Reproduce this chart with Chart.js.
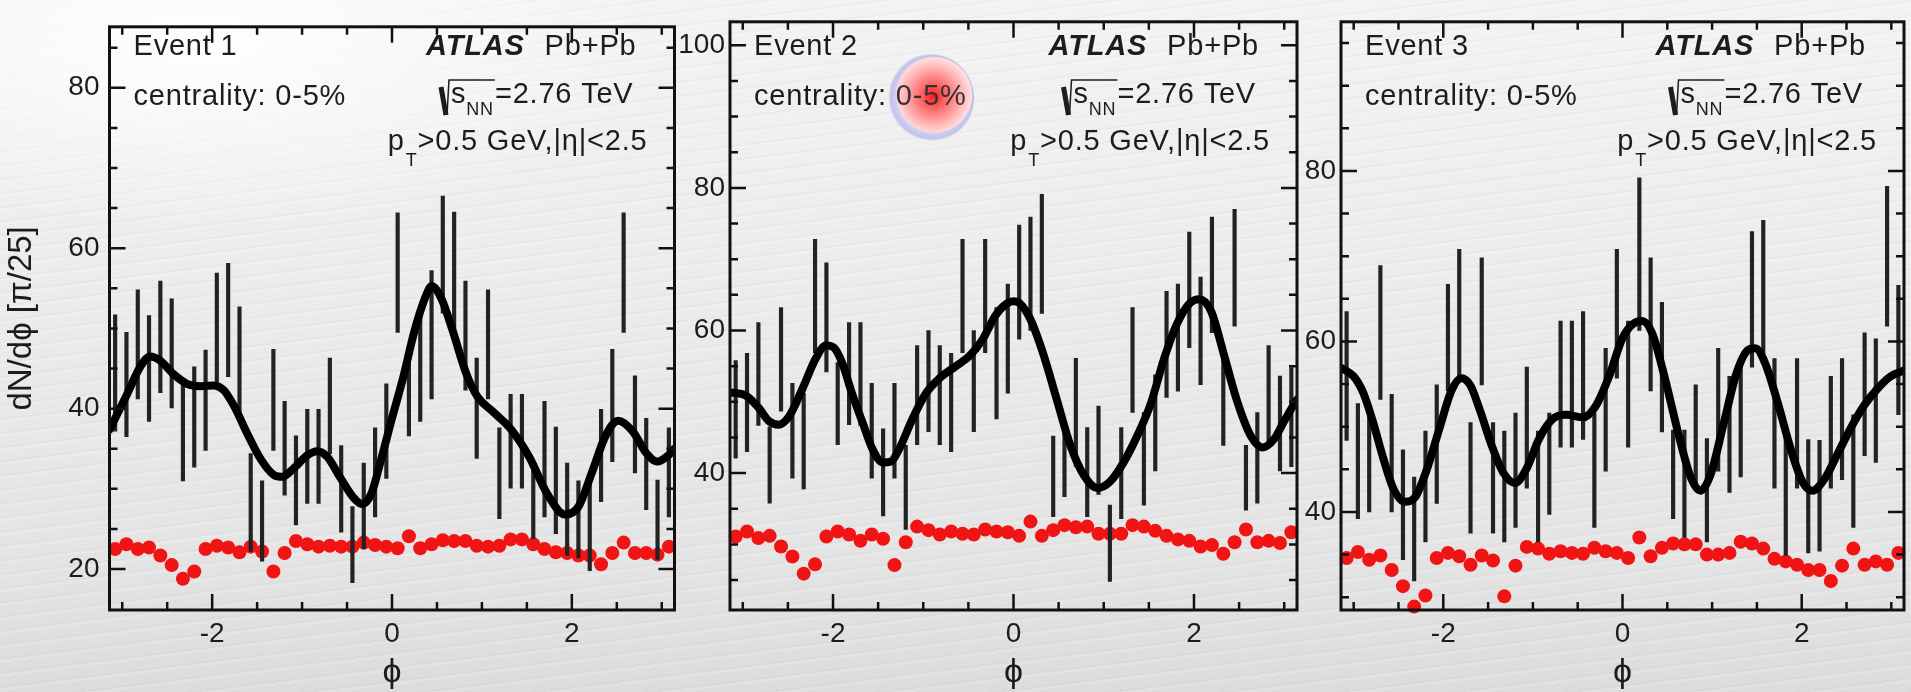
<!DOCTYPE html>
<html>
<head>
<meta charset="utf-8">
<title>ATLAS Pb+Pb single events dN/dphi</title>
<script src="https://cdn.jsdelivr.net/npm/chart.js@4.4.1/dist/chart.umd.min.js"></script>
<style>
  html, body { margin: 0; padding: 0; }
  body {
    width: 1911px; height: 692px; overflow: hidden; position: relative;
    background:
      radial-gradient(ellipse 460px 190px at 200px 40px, rgba(255,255,255,0.95), rgba(255,255,255,0) 100%),
      repeating-linear-gradient(173deg, rgba(0,0,0,0) 0 9px, rgba(0,0,0,0.018) 9px 11px, rgba(255,255,255,0.15) 11px 14px),
      linear-gradient(180deg, #f3f3f3 0%, #ececec 40%, #e4e4e4 80%, #dcdcdc 100%);
  }
  canvas { position: absolute; top: 0; }
</style>
</head>
<body>
<canvas id="event1" width="690" height="692" style="left:0px"></canvas>
<canvas id="event2" width="630" height="692" style="left:680px"></canvas>
<canvas id="event3" width="611" height="692" style="left:1300px"></canvas>
<script>
// bin centres, pi/25 wide bins over [-pi, pi]
const phiBins = [-3.079, -2.953, -2.827, -2.702, -2.576, -2.450, -2.325, -2.199, -2.073, -1.948,
  -1.822, -1.696, -1.571, -1.445, -1.319, -1.194, -1.068, -0.942, -0.817, -0.691,
  -0.565, -0.440, -0.314, -0.188, -0.063, 0.063, 0.188, 0.314, 0.440, 0.565,
  0.691, 0.817, 0.942, 1.068, 1.194, 1.319, 1.445, 1.571, 1.696, 1.822,
  1.948, 2.073, 2.199, 2.325, 2.450, 2.576, 2.702, 2.827, 2.953, 3.079];

const xTicks = [-2, 0, 2];
const xMinorTicks = [-3, -2.5, -1.5, -1, -0.5, 0.5, 1, 1.5, 2.5, 3];

// Event 1
const event1Hi = [51.7, 49.5, 54.8, 51.6, 55.9, 53.7, 43.1, 45.2, 47.3, 56.9, 58.1, 52.7, 34.4, 31.0, 47.4, 40.9, 36.6, 39.9, 39.9, 46.3,
  35.4, 27.8, 33.2, 37.6, 43.1, 64.4, 46.4, 51.4, 57.2, 66.5, 64.5, 55.9, 46.3, 54.8, 37.6, 41.8, 41.8, 33.2, 40.9, 37.7,
  33.2, 31.0, 31.0, 39.9, 47.4, 64.4, 44.1, 38.8, 31.1, 37.6];
const event1Lo = [37.2, 36.5, 41.2, 38.4, 42.0, 40.1, 31.0, 32.7, 34.8, 43.3, 44.0, 39.6, 22.2, 21.0, 34.8, 29.2, 25.5, 28.2, 28.2, 34.4,
  24.6, 18.3, 22.5, 26.5, 31.3, 49.5, 36.6, 38.4, 41.2, 51.9, 49.2, 42.3, 33.8, 41.2, 26.3, 30.1, 30.1, 23.8, 26.5, 24.4,
  21.7, 21.4, 19.8, 28.4, 33.4, 49.5, 32.0, 27.4, 21.2, 26.5];
const event1Flat = [22.5, 23.1, 22.5, 22.7, 21.7, 20.5, 18.8, 19.7, 22.5, 22.9, 22.7, 22.1, 22.8, 22.2, 19.7, 22.0, 23.5, 23.1, 22.8, 22.9,
  22.8, 22.8, 23.3, 23.0, 22.8, 22.6, 24.1, 22.6, 23.1, 23.6, 23.5, 23.5, 22.9, 22.8, 22.9, 23.7, 23.7, 23.1, 22.5, 22.1,
  22.0, 21.7, 21.7, 20.6, 22.0, 23.3, 22.0, 22.0, 21.8, 22.8];
const event1FitPhi = [-3.14, -2.95, -2.80, -2.69, -2.58, -2.43, -2.28, -2.13, -1.98, -1.87, -1.76, -1.61, -1.46, -1.31, -1.22, -1.09,
  -0.94, -0.83, -0.72, -0.57, -0.42, -0.33, -0.23, -0.12, 0.0, 0.125, 0.25, 0.375, 0.44, 0.55, 0.675, 0.825,
  0.95, 1.125, 1.325, 1.525, 1.725, 1.925, 2.075, 2.225, 2.375, 2.515, 2.675, 2.825, 2.95, 3.075, 3.14];
const event1FitVal = [37.4, 41.7, 45.2, 46.5, 46.0, 44.3, 43.1, 42.8, 42.9, 42.3, 40.4, 36.9, 33.7, 31.7, 31.5, 32.6,
  34.2, 34.7, 34.0, 31.3, 28.8, 28.1, 29.4, 33.7, 38.8, 43.9, 49.7, 54.0, 55.3, 53.7, 49.7, 44.4,
  41.5, 39.6, 37.4, 34.0, 29.4, 26.8, 27.8, 32.1, 36.6, 38.5, 37.2, 34.5, 33.4, 34.2, 35.0];
const event1YTicks = [20, 40, 60, 80];
const event1YMinor = [25, 30, 35, 45, 50, 55, 65, 70, 75, 85];

// Event 2
const event2Hi = [55.8, 56.8, 61.1, 46.5, 63.2, 52.6, 51.2, 72.8, 69.5, 55.5, 61.1, 61.1, 52.6, 46.2, 52.6, 43.9, 57.9, 60.0, 57.9, 56.8,
  72.8, 60.0, 72.8, 63.2, 66.5, 74.8, 75.9, 79.1, 45.2, 47.3, 56.1, 46.4, 49.4, 35.5, 46.4, 63.2, 48.5, 53.8, 65.5, 66.5,
  73.8, 67.5, 75.9, 57.9, 77.0, 43.9, 48.5, 57.9, 53.6, 54.8];
const event2Lo = [42.1, 43.0, 46.7, 35.8, 48.7, 39.3, 37.8, 56.9, 54.2, 44.0, 46.8, 46.7, 39.3, 34.0, 39.3, 32.1, 44.0, 45.8, 44.0, 43.0,
  56.9, 45.8, 56.9, 47.6, 51.2, 58.8, 60.0, 62.4, 33.9, 36.7, 40.9, 33.9, 37.0, 24.8, 33.6, 48.5, 35.5, 40.3, 50.6, 51.5,
  57.6, 52.4, 59.7, 43.9, 60.6, 34.8, 35.8, 43.9, 40.3, 40.9];
const event2Flat = [31.1, 31.8, 30.9, 31.2, 29.7, 28.3, 25.9, 27.2, 31.1, 31.8, 31.4, 30.5, 31.4, 30.8, 27.1, 30.3, 32.5, 32.0, 31.4, 31.8,
  31.5, 31.4, 32.1, 31.8, 31.7, 31.2, 33.2, 31.2, 32.0, 32.7, 32.4, 32.5, 31.5, 31.5, 31.5, 32.7, 32.5, 31.9, 31.2, 30.7,
  30.5, 29.7, 29.9, 28.7, 30.3, 32.1, 30.3, 30.5, 30.2, 31.7];
const event2FitPhi = [-3.14, -2.97, -2.82, -2.71, -2.60, -2.49, -2.34, -2.19, -2.08, -1.99, -1.90, -1.79, -1.67, -1.56, -1.45, -1.36,
  -1.27, -1.12, -0.97, -0.82, -0.64, -0.49, -0.34, -0.20, -0.07, 0.0, 0.07, 0.19, 0.33, 0.48, 0.63, 0.78,
  0.93, 1.07, 1.22, 1.37, 1.52, 1.67, 1.81, 1.96, 2.06, 2.19, 2.33, 2.48, 2.63, 2.76, 2.89, 3.00, 3.11, 3.14];
const event2FitVal = [51.3, 50.9, 49.1, 47.3, 46.8, 47.9, 51.8, 56.1, 57.9, 57.6, 55.5, 51.2, 47.0, 43.3, 41.5, 41.6,
  43.3, 47.6, 51.2, 53.3, 55.0, 56.4, 58.8, 62.1, 63.8, 64.1, 63.8, 61.5, 56.7, 50.3, 43.9, 39.7,
  37.9, 38.8, 41.5, 45.2, 49.7, 56.1, 60.9, 63.9, 64.4, 62.7, 56.7, 50.0, 45.2, 43.6, 44.8, 47.3, 49.7, 50.3];
const event2YTicks = [40, 60, 80, 100];
const event2YMinor = [25, 30, 35, 45, 50, 55, 65, 70, 75, 85, 90, 95];

// Event 3
const event3Hi = [63.5, 52.7, 52.3, 68.9, 53.8, 47.3, 44.1, 49.5, 54.9, 66.7, 70.8, 50.5, 69.8, 50.5, 49.5, 51.6, 57.0, 49.5, 51.6, 62.4,
  62.4, 63.5, 51.6, 59.2, 70.8, 62.4, 79.2, 69.8, 64.6, 49.6, 49.6, 54.9, 48.6, 59.2, 55.9, 58.0, 72.9, 74.2, 58.0, 49.6,
  58.0, 48.5, 48.4, 55.9, 58.0, 51.4, 61.0, 60.3, 78.2, 66.6];
const event3Lo = [48.4, 39.2, 40.0, 53.2, 40.0, 34.4, 31.9, 36.5, 41.0, 54.2, 55.4, 37.5, 54.9, 37.5, 36.5, 38.2, 42.8, 36.5, 39.7, 47.6,
  47.6, 48.5, 38.2, 44.8, 55.7, 47.6, 61.3, 54.2, 49.4, 39.2, 37.0, 42.8, 36.5, 44.8, 42.3, 44.1, 57.0, 58.0, 42.8, 34.9,
  42.8, 35.2, 35.4, 42.8, 43.8, 38.2, 46.6, 45.8, 61.8, 51.4];
const event3Flat = [34.6, 35.3, 34.4, 34.9, 33.2, 31.3, 28.9, 30.2, 34.6, 35.2, 34.8, 33.8, 34.9, 34.3, 30.1, 33.7, 35.9, 35.7, 35.1, 35.4,
  35.2, 35.1, 35.8, 35.4, 35.2, 34.6, 37.0, 34.8, 35.8, 36.3, 36.2, 36.2, 35.0, 35.0, 35.2, 36.5, 36.3, 35.7, 34.5, 34.2,
  33.8, 33.2, 33.2, 31.9, 33.7, 35.7, 33.8, 34.2, 33.8, 35.2];
const event3FitPhi = [-3.14, -3.0, -2.89, -2.78, -2.67, -2.56, -2.43, -2.31, -2.19, -2.04, -1.91, -1.80, -1.70, -1.59, -1.46, -1.33,
  -1.20, -1.07, -0.93, -0.78, -0.63, -0.44, -0.30, -0.15, 0.0, 0.11, 0.22, 0.33, 0.48, 0.63, 0.76, 0.87,
  0.98, 1.13, 1.27, 1.40, 1.48, 1.59, 1.73, 1.88, 2.01, 2.12, 2.25, 2.40, 2.55, 2.69, 2.84, 2.99, 3.14];
const event3FitVal = [56.9, 55.9, 53.9, 50.4, 46.3, 42.8, 41.2, 41.8, 44.8, 49.9, 54.2, 55.7, 54.9, 51.9, 47.8, 44.6,
  43.4, 45.1, 48.6, 50.9, 51.4, 51.1, 52.4, 55.9, 60.4, 62.0, 62.4, 61.0, 55.4, 48.9, 44.1, 42.5,
  44.3, 50.4, 56.2, 59.0, 59.2, 57.5, 52.9, 47.3, 43.5, 42.5, 43.8, 46.8, 49.9, 52.4, 54.4, 55.9, 56.6];
const event3YTicks = [40, 60, 80];
const event3YMinor = [30, 35, 45, 50, 55, 65, 70, 75, 85, 90, 95];

const FONT = '"Liberation Sans", Arial, Helvetica, sans-serif';
const INK = '#1c1c1c';

// ROOT-like frame: box, inward ticks on all four sides, and the panel labels
const rootFrame = {
  id: 'rootFrame',
  afterDraw(chart, args, opts) {
    const ctx = chart.ctx;
    const a = chart.chartArea;
    const x = chart.scales.x, y = chart.scales.y;
    ctx.save();
    ctx.strokeStyle = '#111';
    ctx.lineWidth = 2.5;
    ctx.beginPath();
    const xt = (vals, len) => vals.forEach(v => {
      const px = x.getPixelForValue(v);
      ctx.moveTo(px, a.bottom); ctx.lineTo(px, a.bottom - len);
      ctx.moveTo(px, a.top); ctx.lineTo(px, a.top + len);
    });
    const yt = (vals, len) => vals.forEach(v => {
      const py = y.getPixelForValue(v);
      ctx.moveTo(a.left, py); ctx.lineTo(a.left + len, py);
      ctx.moveTo(a.right, py); ctx.lineTo(a.right - len, py);
    });
    xt(xTicks, 16); xt(xMinorTicks, 8);
    yt(opts.yMajor, 16); yt(opts.yMinor, 8);
    ctx.stroke();
    ctx.lineWidth = 3;
    ctx.strokeRect(a.left, a.top, a.right - a.left, a.bottom - a.top);

    const big = '29px ' + FONT;
    const sub = '18px ' + FONT;
    ctx.fillStyle = INK;
    ctx.textBaseline = 'alphabetic';
    ctx.letterSpacing = '0.8px';

    // left block
    ctx.textAlign = 'left';
    ctx.font = big;
    const lx = a.left + 24;
    ctx.fillText(opts.event, lx, 55);
    const pre = 'centrality: ';
    ctx.fillText(pre, lx, 105);
    const cx0 = lx + ctx.measureText(pre).width;
    const cw = ctx.measureText('0-5%').width;
    if (opts.highlight) {
      const cx = cx0 + cw / 2 + 1, cy = 97;
      let g = ctx.createRadialGradient(cx, cy, 30, cx, cy, 44);
      g.addColorStop(0, 'rgba(225,225,250,0.9)');
      g.addColorStop(0.8, 'rgba(190,190,235,0.95)');
      g.addColorStop(1, 'rgba(170,170,220,0.0)');
      ctx.fillStyle = g;
      ctx.beginPath(); ctx.arc(cx - 2, cy + 1, 44, 0, Math.PI * 2); ctx.fill();
      g = ctx.createRadialGradient(cx + 1, cy - 1, 0, cx + 1, cy - 1, 38);
      g.addColorStop(0, '#ff1a1a');
      g.addColorStop(0.35, '#ff6a6a');
      g.addColorStop(0.75, '#ffb4b4');
      g.addColorStop(1, '#ffdede');
      ctx.fillStyle = g;
      ctx.beginPath(); ctx.arc(cx + 2, cy - 2, 38, 0, Math.PI * 2); ctx.fill();
      ctx.fillStyle = '#333';
    }
    ctx.fillText('0-5%', cx0, 105);
    ctx.fillStyle = INK;

    // right block
    ctx.textAlign = 'right';
    let xr = a.right - 38;
    ctx.font = big;
    ctx.fillText('Pb+Pb', xr, 55);
    xr -= ctx.measureText('Pb+Pb').width + 20;
    ctx.font = 'italic bold ' + big;
    ctx.fillText('ATLAS', xr, 55);

    xr = a.right - 41;
    ctx.font = big;
    ctx.fillText('=2.76 TeV', xr, 103);
    const barEnd = xr - ctx.measureText('=2.76 TeV').width;
    ctx.font = sub;
    ctx.fillText('NN', barEnd - 1, 115);
    let sx = barEnd - 1 - ctx.measureText('NN').width;
    ctx.font = big;
    ctx.fillText('s', sx, 103);
    sx -= ctx.measureText('s').width + 2;
    ctx.strokeStyle = INK;
    ctx.lineWidth = 5;
    ctx.beginPath(); ctx.moveTo(sx - 8, 87); ctx.lineTo(sx - 3, 115); ctx.stroke();
    ctx.lineWidth = 1.5;
    ctx.beginPath(); ctx.moveTo(sx - 2, 115); ctx.lineTo(sx, 80); ctx.lineTo(barEnd, 80); ctx.stroke();

    xr = a.right - 27;
    ctx.font = big;
    ctx.fillText('>0.5 GeV,|\u03b7|<2.5', xr, 150);
    xr -= ctx.measureText('>0.5 GeV,|\u03b7|<2.5').width;
    ctx.font = sub;
    ctx.fillText('T', xr, 166);
    xr -= ctx.measureText('T').width + 1;
    ctx.font = big;
    ctx.fillText('p', xr, 150);
    ctx.restore();
  }
};

function buildPanel(id, p) {
  const bars = phiBins.map((v, i) => ({ x: v, y: [p.lo[i], p.hi[i]] }));
  const dots = phiBins.map((v, i) => ({ x: v, y: p.flat[i] }));
  const fit = p.fitPhi.map((v, i) => ({ x: v, y: p.fitVal[i] }));
  const tickFont = { family: FONT, size: 28 };

  return new Chart(document.getElementById(id), {
    type: 'bar',
    data: {
      datasets: [
        { type: 'line', data: fit, borderColor: '#000', borderWidth: 8, pointRadius: 0,
          cubicInterpolationMode: 'monotone', borderCapStyle: 'round', borderJoinStyle: 'round', order: 0 },
        { type: 'bar', data: bars, backgroundColor: '#222', barThickness: 3.5, order: 1 },
        { type: 'scatter', data: dots, backgroundColor: '#f01414', borderWidth: 0, pointRadius: 7,
          clip: false, order: 2 }
      ]
    },
    options: {
      responsive: false,
      animation: false,
      devicePixelRatio: 1,
      layout: { padding: { top: 9, right: p.padRight, left: 0, bottom: 0 } },
      plugins: {
        legend: { display: false },
        tooltip: { enabled: false },
        rootFrame: { event: p.event, highlight: p.highlight, yMajor: p.yTicks, yMinor: p.yMinor }
      },
      scales: {
        x: {
          type: 'linear', min: -Math.PI, max: Math.PI, offset: false,
          grid: { display: false, drawTicks: false }, border: { display: false },
          afterBuildTicks: s => { s.ticks = xTicks.map(v => ({ value: v })); },
          afterFit: s => { s.height = 82; },
          ticks: { font: tickFont, color: INK, padding: 7, maxRotation: 0, autoSkip: false },
          title: { display: true, text: '\u03d5', color: INK, font: { family: FONT, size: 34 },
                   padding: { top: 0, bottom: -1 } }
        },
        y: {
          type: 'linear', min: p.yMin, max: p.yMax,
          grid: { display: false, drawTicks: false }, border: { display: false },
          afterBuildTicks: s => { s.ticks = p.yTicks.map(v => ({ value: v })); },
          afterFit: s => { s.width = p.axisWidth; },
          ticks: { font: tickFont, color: INK, padding: p.labelPad, autoSkip: false },
          title: { display: p.yTitle, text: 'dN/d\u03d5 [\u03c0/25]', color: INK,
                   font: { family: FONT, size: 33 }, padding: { top: 2, bottom: 0 } }
        }
      }
    },
    plugins: [rootFrame]
  });
}

buildPanel('event1', {
  event: 'Event 1', highlight: false, yTitle: true,
  hi: event1Hi, lo: event1Lo, flat: event1Flat, fitPhi: event1FitPhi, fitVal: event1FitVal,
  yMin: 14.9, yMax: 87.6, yTicks: event1YTicks, yMinor: event1YMinor,
  axisWidth: 109.5, padRight: 15.5, labelPad: 10
});
buildPanel('event2', {
  event: 'Event 2', highlight: true, yTitle: false,
  hi: event2Hi, lo: event2Lo, flat: event2Flat, fitPhi: event2FitPhi, fitVal: event2FitVal,
  yMin: 20.8, yMax: 103.3, yTicks: event2YTicks, yMinor: event2YMinor,
  axisWidth: 50, padRight: 13, labelPad: 5
});
buildPanel('event3', {
  event: 'Event 3', highlight: false, yTitle: false,
  hi: event3Hi, lo: event3Lo, flat: event3Flat, fitPhi: event3FitPhi, fitVal: event3FitVal,
  yMin: 28.5, yMax: 97.5, yTicks: event3YTicks, yMinor: event3YMinor,
  axisWidth: 41, padRight: 4, labelPad: 5
});
</script>
</body>
</html>
